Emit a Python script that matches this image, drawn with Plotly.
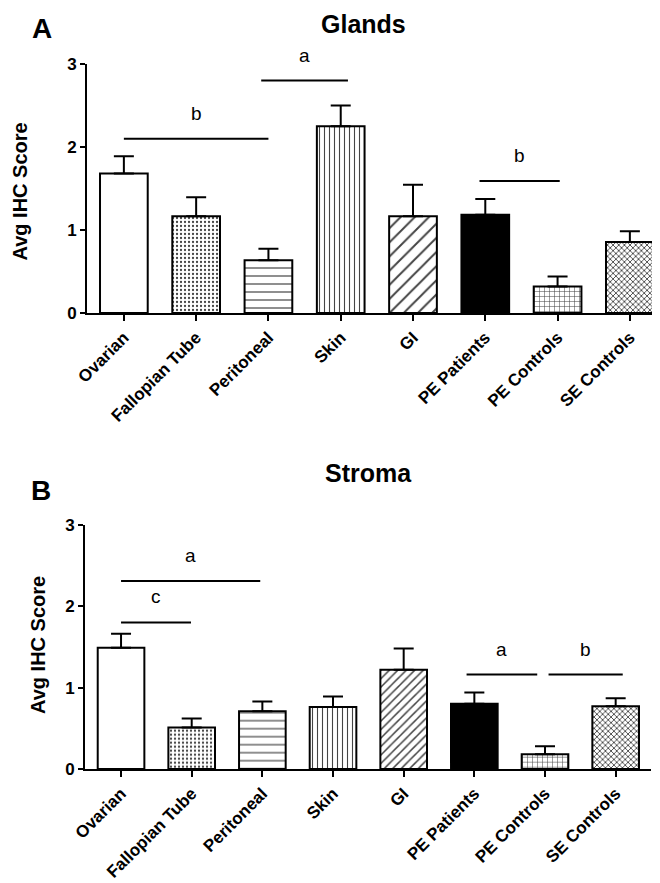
import plotly.graph_objects as go

categories = ["Ovarian", "Fallopian Tube", "Peritoneal", "Skin", "GI",
              "PE Patients", "PE Controls", "SE Controls"]

glands_mean = [1.68, 1.165, 0.635, 2.25, 1.165, 1.185, 0.32, 0.855]
glands_err = [0.21, 0.23, 0.14, 0.25, 0.38, 0.19, 0.12, 0.13]

stroma_mean = [1.49, 0.51, 0.71, 0.76, 1.22, 0.80, 0.18, 0.77]
stroma_err = [0.17, 0.11, 0.12, 0.13, 0.26, 0.14, 0.10, 0.10]

y_ticks = [0, 1, 2, 3]

# significance brackets: start/end (category index), height, label
glands_sig_start = [0, 1.9, 4.92]
glands_sig_end = [2, 3.1, 6.03]
glands_sig_y = [2.10, 2.80, 1.59]
glands_sig_label = ["b", "a", "b"]

stroma_sig_start = [0, 0, 4.89, 6.05]
stroma_sig_end = [1.97, 0.99, 5.89, 7.1]
stroma_sig_y = [2.31, 1.80, 1.16, 1.16]
stroma_sig_label = ["a", "c", "a", "b"]

W, H = 660, 883
FONT = "Liberation Sans, Arial, Helvetica, sans-serif"

bar_color = ["white", "white", "white", "white", "white", "black", "white", "white"]
pat_shape = ["", ".", "-", "|", "/", "", "+", "x"]
sizes_top = [6, 4, 8, 5, 10, 6, 5, 4]
solid_top = [0.2, 0.25, 0.15, 0.22, 0.2, 0.2, 0.2, 0.4]
sizes_bot = [6, 4, 8, 5, 6, 6, 5, 4]
solid_bot = [0.2, 0.25, 0.15, 0.22, 0.25, 0.2, 0.2, 0.4]


def make_bar(vals, errs, xa, ya, sizes, solid):
    return go.Bar(
        x=categories, y=vals, xaxis=xa, yaxis=ya, width=0.66,
        marker=dict(
            color=bar_color,
            line=dict(color="black", width=2),
            pattern=dict(shape=pat_shape, size=sizes, solidity=solid,
                         fgcolor="black", fgopacity=1, fillmode="overlay"),
        ),
        error_y=dict(type="data", symmetric=False, array=errs,
                     arrayminus=[0] * len(errs), color="black",
                     thickness=2, width=10),
        showlegend=False, hoverinfo="skip",
    )


fig = go.Figure()
fig.add_trace(make_bar(glands_mean, glands_err, "x", "y", sizes_top, solid_top))
fig.add_trace(make_bar(stroma_mean, stroma_err, "x2", "y2", sizes_bot, solid_bot))

xcommon = dict(type="category", range=[-0.51, 7.5], showline=True, linewidth=2,
               linecolor="black", ticks="outside", ticklen=6, tickwidth=2,
               tickcolor="black", tickangle=-45, showgrid=False, zeroline=False,
               tickfont=dict(family=FONT, size=17, color="black", weight="bold"),
               automargin=False)
ycommon = dict(range=[0, 3], tickvals=y_ticks, showline=True, linewidth=2,
               linecolor="black", ticks="outside", ticklen=5, tickwidth=2,
               tickcolor="black", showgrid=False, zeroline=False,
               tickfont=dict(family=FONT, size=17, color="black", weight="bold"),
               automargin=False)

fig.update_layout(
    width=W, height=H,
    margin=dict(l=0, r=0, t=0, b=0),
    paper_bgcolor="white", plot_bgcolor="white",
    xaxis=dict(domain=[79 / W, 658 / W], anchor="y", **xcommon),
    yaxis=dict(domain=[1 - 305 / H, 1 - 56 / H], anchor="x", **ycommon),
    xaxis2=dict(domain=[77 / W, 643 / W], anchor="y2", **xcommon),
    yaxis2=dict(domain=[1 - 761 / H, 1 - 516.7 / H], anchor="x2", **ycommon),
)

shapes = []
annotations = []


def add_sig(starts, ends, ys, labels, xref, yref):
    for s, e, yv, lab in zip(starts, ends, ys, labels):
        shapes.append(dict(type="line", xref=xref, yref=yref, x0=s, x1=e, y0=yv, y1=yv,
                           line=dict(color="black", width=2)))
        annotations.append(dict(x=(s + e) / 2, y=yv, xref=xref, yref=yref, text=lab,
                                showarrow=False, yanchor="bottom", yshift=13,
                                font=dict(family=FONT, size=19, color="black")))


add_sig(glands_sig_start, glands_sig_end, glands_sig_y, glands_sig_label, "x", "y")
add_sig(stroma_sig_start, stroma_sig_end, stroma_sig_y, stroma_sig_label, "x2", "y2")

# titles, panel letters, axis titles
annotations += [
    dict(x=355 / W, y=1.0, xref="paper", yref="paper", text="Glands",
         showarrow=False, xanchor="center", yanchor="top",
         font=dict(family=FONT, size=25, color="black", weight="bold")),
    dict(x=360 / W, y=1 - 465 / H, xref="paper", yref="paper", text="Stroma",
         showarrow=False, xanchor="center", yanchor="middle",
         font=dict(family=FONT, size=25, color="black", weight="bold")),
    dict(x=34 / W, y=1 - 21 / H, xref="paper", yref="paper", text="A",
         showarrow=False, xanchor="center", yanchor="middle",
         font=dict(family=FONT, size=28, color="black", weight="bold")),
    dict(x=33 / W, y=1 - 482 / H, xref="paper", yref="paper", text="B",
         showarrow=False, xanchor="center", yanchor="middle",
         font=dict(family=FONT, size=28, color="black", weight="bold")),
    dict(x=11 / W, y=1 - 183.5 / H, xref="paper", yref="paper", text="Avg IHC Score",
         showarrow=False, xanchor="center", yanchor="middle", textangle=-90,
         font=dict(family=FONT, size=20, color="black", weight="bold")),
    dict(x=30 / W, y=1 - 637 / H, xref="paper", yref="paper", text="Avg IHC Score",
         showarrow=False, xanchor="center", yanchor="middle", textangle=-90,
         font=dict(family=FONT, size=20, color="black", weight="bold")),
]

fig.update_layout(shapes=shapes, annotations=annotations)
fig.write_html("out.html")
